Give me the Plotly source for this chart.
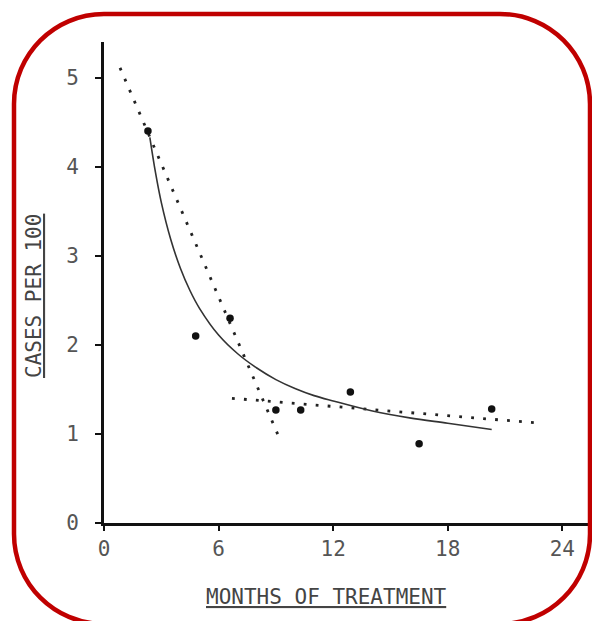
import plotly.graph_objects as go

# Observed data points (months of treatment, cases per 100)
months = [2.3, 4.8, 6.6, 9.0, 10.3, 12.9, 16.5, 20.3]
cases = [4.40, 2.10, 2.30, 1.27, 1.27, 1.47, 0.89, 1.28]

# Solid fitted curve
curve_x = [2.4, 2.7, 3.0, 3.5, 4.0, 4.5, 5.0, 6.0, 7.0, 8.0, 9.0, 10.0, 11.0, 12.0, 14.0, 16.0, 18.0, 20.3]
curve_y = [4.33, 3.93, 3.60, 3.18, 2.86, 2.61, 2.41, 2.11, 1.90, 1.74, 1.61, 1.51, 1.43, 1.37, 1.26, 1.18, 1.12, 1.05]

# Dotted straight lines (end points)
steep_x = [0.84, 9.27]
steep_y = [5.11, 0.91]
flat_x = [6.7, 22.9]
flat_y = [1.40, 1.12]

x_ticks = [0, 6, 12, 18, 24]
y_ticks = [0, 1, 2, 3, 4, 5]

W, H = 592, 621
L, R, T, B = 104, 1, 42, 98
PW, PH = W - L - R, H - T - B

def px(xp):
    return (xp - L) / PW

def py(yp):
    return (H - B - yp) / PH

FONT = "DejaVu Sans Mono"

fig = go.Figure()
fig.add_trace(go.Scatter(x=steep_x, y=steep_y, mode="lines",
                         line=dict(color="#222", width=2.8, dash="2.8px,9.2px"),
                         showlegend=False, hoverinfo="skip"))
fig.add_trace(go.Scatter(x=flat_x, y=flat_y, mode="lines",
                         line=dict(color="#222", width=2.8, dash="2.8px,9.2px"),
                         showlegend=False, hoverinfo="skip"))
fig.add_trace(go.Scatter(x=curve_x, y=curve_y, mode="lines",
                         line=dict(color="#333", width=1.6, shape="spline"),
                         showlegend=False))
fig.add_trace(go.Scatter(x=months, y=cases, mode="markers",
                         marker=dict(color="#111", size=7.5),
                         showlegend=False))

# rounded red frame (pixel geometry converted to paper coords)
x0, x1, y0, y1, r = 14, 590, 14, 624, 90
k = 0.5523 * r
pts = [
    ("M", [(x0 + r, y0)]),
    ("L", [(x1 - r, y0)]),
    ("C", [(x1 - r + k, y0), (x1, y0 + r - k), (x1, y0 + r)]),
    ("L", [(x1, y1 - r)]),
    ("C", [(x1, y1 - r + k), (x1 - r + k, y1), (x1 - r, y1)]),
    ("L", [(x0 + r, y1)]),
    ("C", [(x0 + r - k, y1), (x0, y1 - r + k), (x0, y1 - r)]),
    ("L", [(x0, y0 + r)]),
    ("C", [(x0, y0 + r - k), (x0 + r - k, y0), (x0 + r, y0)]),
]
path = ""
for cmd, cps in pts:
    path += cmd + " ".join(f"{px(a):.5f},{py(b):.5f}" for a, b in cps) + " "
path += "Z"
fig.add_shape(type="path", path=path, xref="paper", yref="paper",
              line=dict(color="#c00000", width=4.5), layer="above")

fig.add_annotation(text="<u>MONTHS OF TREATMENT</u>", xref="paper", yref="paper",
                   x=px(326), y=py(597), xanchor="center", yanchor="middle",
                   showarrow=False,
                   font=dict(family=FONT, size=21, color="#444"))
fig.add_annotation(text="<u>CASES PER 100</u>", xref="paper", yref="paper",
                   x=px(34), y=py(296), xanchor="center", yanchor="middle",
                   showarrow=False, textangle=-90,
                   font=dict(family=FONT, size=21, color="#444"))

fig.update_xaxes(range=[0, 25.5], tickvals=x_ticks, ticktext=[str(v) for v in x_ticks],
                 showline=True, linecolor="#111", linewidth=2.6, showgrid=False, zeroline=False,
                 ticks="outside", ticklen=5, tickwidth=2, tickcolor="#111",
                 ticklabelstandoff=0,
                 tickfont=dict(family=FONT, size=21, color="#555"))
fig.update_yaxes(range=[0, 5.4], tickvals=y_ticks, ticktext=[str(v) for v in y_ticks],
                 showline=True, linecolor="#111", linewidth=2.6, showgrid=False, zeroline=False,
                 ticks="outside", ticklen=6, tickwidth=2, tickcolor="#111",
                 ticklabelstandoff=12,
                 tickfont=dict(family=FONT, size=21, color="#555"))
fig.update_layout(width=W, height=H, margin=dict(l=L, r=R, t=T, b=B),
                  paper_bgcolor="white", plot_bgcolor="white")
fig.write_html("out.html")
